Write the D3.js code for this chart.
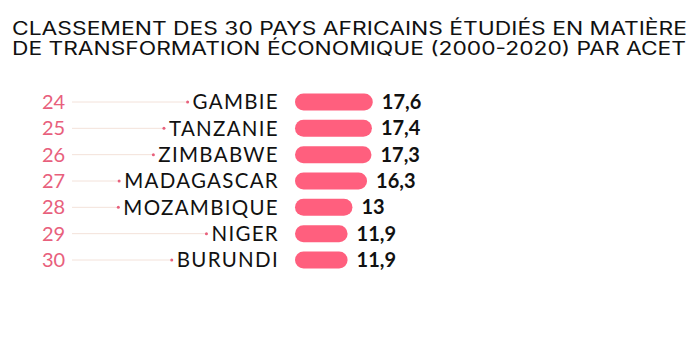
<!DOCTYPE html>
<html>
  <head>
    <meta charset="utf-8">
    <script src="https://d3js.org/d3.v7.min.js"></script>
    <style type="text/css">
      body { margin: 0; background: #fff; }
      svg { display: block; }
      text { font-family: "Lato", sans-serif; }
    </style>
  </head>
  <body>
    <div id="chart"></div>
    <script type="text/javascript">
      var titleLines = ["CLASSEMENT DES 30 PAYS AFRICAINS ÉTUDIÉS EN MATIÈRE",
                        "DE TRANSFORMATION ÉCONOMIQUE (2000-2020) PAR ACET"];
      var ranks = [24, 25, 26, 27, 28, 29, 30];
      var countries = ["GAMBIE", "TANZANIE", "ZIMBABWE", "MADAGASCAR", "MOZAMBIQUE", "NIGER", "BURUNDI"];
      var scores = [17.6, 17.4, 17.3, 16.3, 13, 11.9, 11.9];

      var width = 690,
          height = 364,
          barH = 17;

      var svg = d3.select("#chart")
        .append("svg")
        .attr("width", width)
        .attr("height", height);

      svg.selectAll(".title")
        .data(titleLines)
        .enter()
          .append("text")
          .attr("class", "title")
          .attr("x", 12)
          .attr("y", function(d, i) { return 34.5 + i * 20.5; })
          .attr("textLength", function(d, i) { return i == 0 ? 675 : 674; })
          .attr("lengthAdjust", "spacingAndGlyphs")
          .style("font-family", "Inter, sans-serif")
          .style("font-size", "18px")
          .attr("fill", "#111")
          .text(function(d) { return d; });

      var y = d3.scalePoint().domain(countries).range([102, 260]);
      var x = d3.scaleLinear().domain([0, 20]).range([295, 295 + 88.4]);

      var rows = svg.selectAll(".row")
        .data(countries)
        .enter()
          .append("g")
          .attr("class", "row")
          .attr("transform", function(d) { return "translate(0," + y(d) + ")"; });

      rows.append("text")
        .attr("x", 42)
        .attr("dy", "0.35em")
        .style("font-size", "20px")
        .attr("fill", "#e8607c")
        .text(function(d, i) { return ranks[i]; });

      var names = rows.append("text")
        .attr("x", 279)
        .attr("dy", "0.36em")
        .attr("text-anchor", "end")
        .style("font-size", "20.5px")
        .style("letter-spacing", "1.3px")
        .attr("fill", "#111")
        .text(function(d) { return d; });

      names.each(function(d) {
        var w = this.getComputedTextLength();
        var g = d3.select(this.parentNode);
        var dotX = 279 - w - 5;
        g.insert("line", "text")
          .attr("x1", 72)
          .attr("x2", dotX)
          .attr("y1", 0)
          .attr("y2", 0)
          .attr("stroke", "#f3e2da")
          .attr("stroke-width", 1);
        g.append("circle")
          .attr("cx", dotX)
          .attr("cy", 0)
          .attr("r", 1.5)
          .attr("fill", "#e8607c");
      });

      rows.append("rect")
        .attr("x", x(0))
        .attr("y", -barH / 2)
        .attr("height", barH)
        .attr("width", function(d, i) { return x(scores[i]) - x(0); })
        .attr("rx", barH / 2)
        .attr("fill", "#ff5f7e");

      rows.append("text")
        .attr("x", function(d, i) { return x(scores[i]) + 9; })
        .attr("dy", "0.35em")
        .style("font-size", "20px")
        .style("font-weight", "bold")
        .attr("fill", "#111")
        .text(function(d, i) { return d3.format(",")(scores[i]).replace(".", ","); });
    </script>
  </body>
</html>
